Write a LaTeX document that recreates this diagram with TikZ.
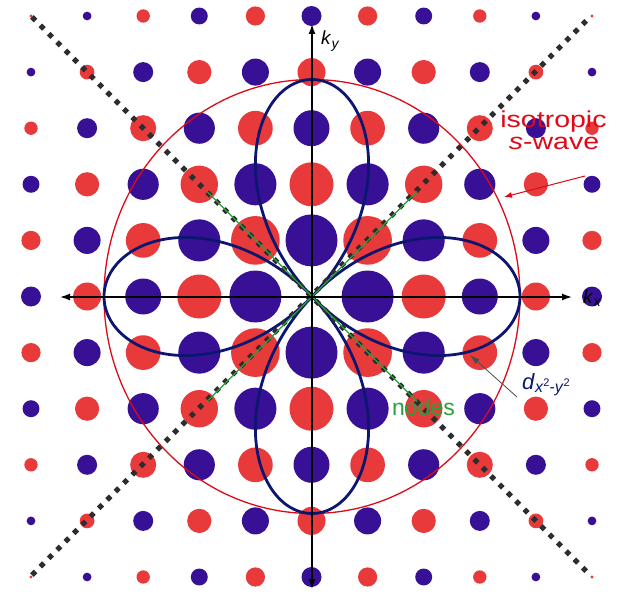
\documentclass[tikz,border=0pt]{standalone}
\usepackage{fontspec}
\setmainfont{Liberation Sans}
\usepackage{graphicx}
\usetikzlibrary{arrows.meta}
\definecolor{dotred}{RGB}{232,58,58}
\definecolor{dotblue}{RGB}{56,16,150}
\definecolor{lobecol}{RGB}{12,22,112}
\definecolor{circred}{RGB}{222,10,24}
\definecolor{nodegreen}{RGB}{40,160,60}
\definecolor{dotgray}{RGB}{45,45,45}
\tikzset{
  axisline/.style={line width=1.4pt, black, {Latex[length=10pt,width=7pt]}-{Latex[length=10pt,width=7pt]}},
  lobeline/.style={line width=2.8pt, lobecol},
  isoline/.style={line width=1.3pt, circred},
  nodeline/.style={line width=1.1pt, nodegreen},
  diagdots/.style={line width=5pt, dotgray, dash pattern=on 5pt off 6.8pt},
  redarrow/.style={line width=1pt, circred, -{Latex[length=8pt,width=6pt]}},
  darrow/.style={line width=0.8pt, black!70, -{Latex[length=10pt,width=6pt]}},
  redlabel/.style={text=circred, font=\fontsize{23}{26}\selectfont, inner sep=0pt, anchor=base},
}
\begin{document}
\begin{tikzpicture}[x=1pt,y=-1pt]
\useasboundingbox (0,0) rectangle (619,594);
\fill[white] (0,0) rectangle (619,594);
% lattice of dots
\foreach \i in {-5,...,5}{
  \foreach \j in {-5,...,5}{
    \pgfmathtruncatemacro\s{abs(\i)+abs(\j)}
    \ifnum\s>0
      \pgfmathsetmacro\r{max(30-4*sqrt(\i*\i+\j*\j),1.5)}
      \ifodd\s \def\c{dotblue}\else\def\c{dotred}\fi
      \fill[\c] ({311.5+56.1*\i},{296.5+56.1*\j}) circle[radius=\r];
    \fi
  }
}
\coordinate (O) at (312,296.5);
% isotropic s-wave circle
\draw[isoline] (O) ellipse [x radius=208, y radius=217];
% d-wave lobes
\draw[lobeline] plot[domain=0:360, samples=721, smooth]
  ({312+208*cos(2*\x)*cos(\x)}, {296.5+217*cos(2*\x)*sin(\x)});
% diagonal dotted lines
\coordinate (tl) at (32,17);
\coordinate (br) at (590,575);
\coordinate (bl) at (32,575);
\coordinate (tr) at (590,17);
\draw[diagdots] (tl) -- (br);
\draw[diagdots] (bl) -- (tr);
% nodes (green)
\coordinate (g1) at (207,191.5);
\coordinate (g2) at (417,401.5);
\coordinate (g3) at (207,401.5);
\coordinate (g4) at (417,191.5);
\draw[nodeline] (g1) -- (g2);
\draw[nodeline] (g3) -- (g4);
% axes
\coordinate (xl) at (60,297);
\coordinate (xr) at (572,297);
\coordinate (yt) at (312,24);
\coordinate (yb) at (312,589);
\draw[axisline] (xl) -- (xr);
\draw[axisline] (yb) -- (yt);
% labels
\node[anchor=base west, inner sep=0pt, font=\fontsize{19}{20}\selectfont] (ky) at (321,45)
  {\textit{k}\raisebox{-4pt}{\fontsize{14}{14}\selectfont\textit{y}}};
\node[anchor=base west, inner sep=0pt, font=\fontsize{19}{20}\selectfont] (kx) at (583,303)
  {\textit{k}\raisebox{-3pt}{\fontsize{14}{14}\selectfont\textit{x}}};
\node[redlabel] (iso) at (553.5,128) {\scalebox{1.24}[1]{isotropic}};
\node[redlabel] (sw) at (554,149) {\scalebox{1.24}[1]{\textit{s}-wave}};
\node[anchor=base, inner sep=0pt, text=nodegreen, font=\fontsize{23}{26}\selectfont] (nd) at (423.5,415) {nodes};
\node[anchor=base west, inner sep=0pt, text=lobecol, font=\fontsize{22}{24}\selectfont] (dl) at (522,389)
  {\textit{d}\raisebox{-3pt}{\fontsize{16}{16}\selectfont\textit{x}\raisebox{6pt}{\fontsize{11}{11}\selectfont 2}-\textit{y}\raisebox{6pt}{\fontsize{11}{11}\selectfont 2}}};
% pointer arrows
\coordinate (rs) at (585,176);
\coordinate (rt) at (504,197);
\draw[redarrow] (rs) -- (rt);
\coordinate (ds) at (517,397);
\coordinate (dt) at (470,355);
\draw[darrow] (ds) -- (dt);
\end{tikzpicture}
\end{document}
